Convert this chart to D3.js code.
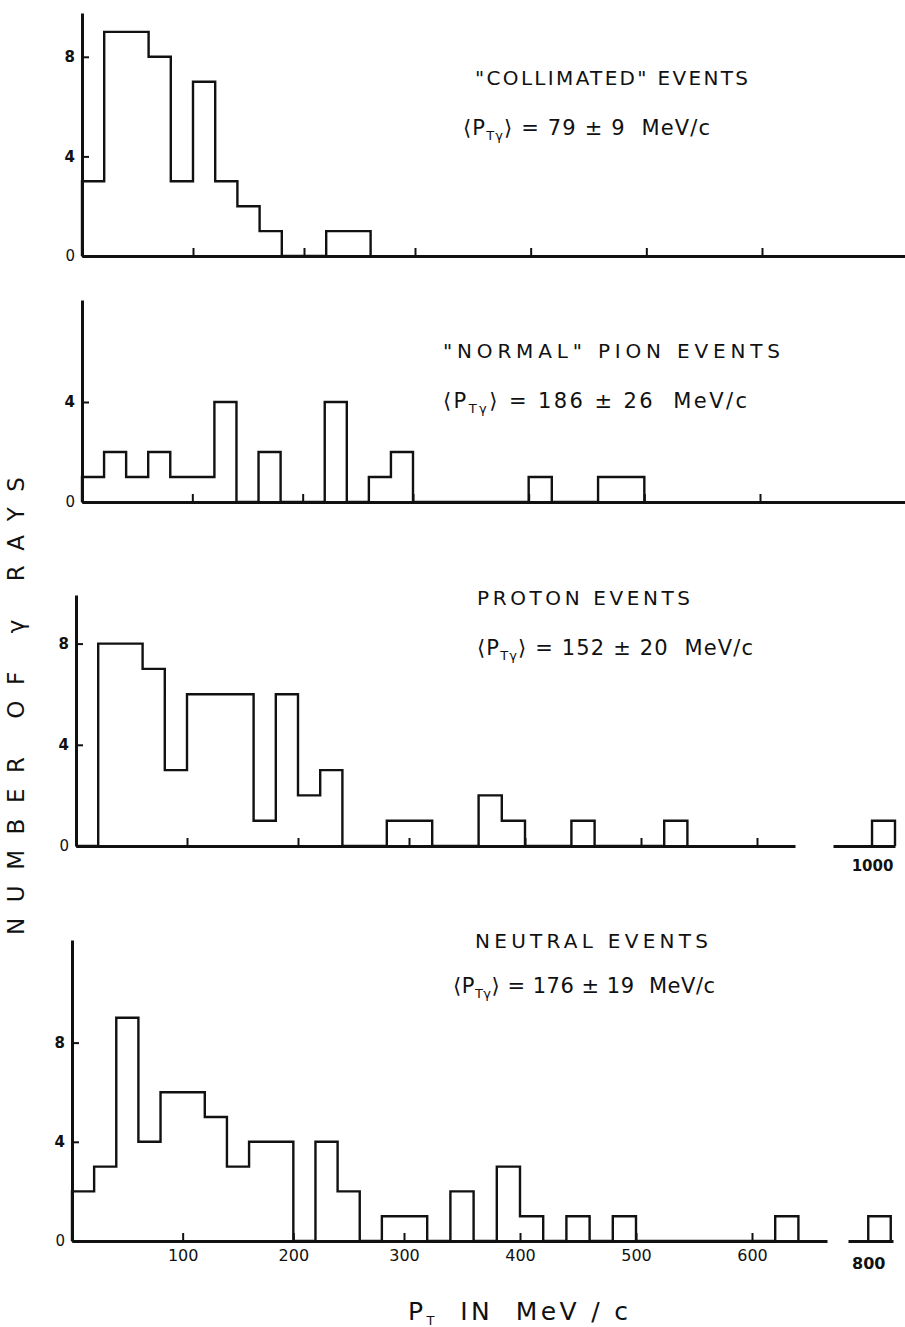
<!DOCTYPE html>
<html>
<head>
<meta charset="utf-8">
<script src="https://cdn.jsdelivr.net/npm/d3@7"></script>
<style>
  body { margin: 0; background: #fff; }
  text { font-family: "DejaVu Sans", sans-serif; fill: #111; }
</style>
</head>
<body>
<div id="chart"></div>
<script>
// counts of gamma rays per 20 MeV/c bin, starting at p_T = 0
var binWidth = 20;
var collimatedCounts = [3, 9, 9, 8, 3, 7, 3, 2, 1, 0, 0, 1, 1];
var pionCounts = [1, 2, 1, 2, 1, 1, 4, 0, 2, 0, 0, 4, 0, 1, 2, 0, 0, 0, 0, 0, 1, 0, 0, 1, 1];
var protonCounts = [0, 8, 8, 7, 3, 6, 6, 6, 1, 6, 2, 3, 0, 0, 1, 1, 0, 0, 2, 1, 0, 0, 1, 0, 0, 0, 1];
var neutralCounts = [2, 3, 9, 4, 6, 6, 5, 3, 4, 4, 0, 4, 2, 0, 1, 1, 0, 2, 0, 3, 1, 0, 1, 0, 1,
                     0, 0, 0, 0, 0, 0, 1];

// the far bins past the axis break
var protonFarStart = [1000];
var protonFarCounts = [1];
var neutralFarStart = [800];
var neutralFarCounts = [1];

var panelTitles = ['"COLLIMATED" EVENTS', '"NORMAL" PION EVENTS', 'PROTON EVENTS', 'NEUTRAL EVENTS'];
var panelMeans = ['79 \u00b1 9  MeV/c', '186 \u00b1 26  MeV/c', '152 \u00b1 20  MeV/c', '176 \u00b1 19  MeV/c'];
var yTickValues = [[0, 4, 8], [0, 4], [0, 4, 8], [0, 4, 8]];
var xTickValues = [100, 200, 300, 400, 500, 600];

var fullWidth = 905;
var fullHeight = 1327;
var ink = '#111';

// layout of the four panels (hand drawn axes, so each has its own anchors)
var panels = [
    { counts: collimatedCounts, xr: [82, 415, 762], xEnd: 905, y0: 256, yTop: 13, ppu: 24.9,
      title: [475, 85, 273], mean: [463, 135, 247], labels: false },
    { counts: pionCounts, xr: [82, 413, 760], xEnd: 905, y0: 502, yTop: 300, ppu: 25,
      title: [443, 358, 337], mean: [443, 408, 304], labels: false },
    { counts: protonCounts, xr: [76, 409, 757], xEnd: 795, y0: 846, yTop: 595, ppu: 25.3,
      title: [477, 605, 213], mean: [477, 655, 276], labels: false,
      far: { start: protonFarStart, counts: protonFarCounts, dom: [966, 1020], rng: [833, 895] } },
    { counts: neutralCounts, xr: [72, 404, 752], xEnd: 827, y0: 1241, yTop: 940, ppu: 24.8,
      title: [475, 948, 233], mean: [453, 993, 262], labels: true,
      far: { start: neutralFarStart, counts: neutralFarCounts, dom: [782, 822], rng: [848, 893] } }
];

var svg = d3.select('#chart').append('svg')
    .attr('width', fullWidth)
    .attr('height', fullHeight)
    .style('display', 'block');

svg.append('rect')
    .attr('width', fullWidth)
    .attr('height', fullHeight)
    .attr('fill', '#fff');

panels.forEach(function(p, i) {
    drawPanel(p, i);
});

// y axis title
svg.append('text')
    .attr('transform', 'translate(24,706) rotate(-90)')
    .attr('text-anchor', 'middle')
    .attr('textLength', 458)
    .attr('lengthAdjust', 'spacing')
    .style('font-size', '23px')
    .text('NUMBER OF \u03b3 RAYS');

// x axis title
var xTitle = svg.append('text')
    .attr('x', 408)
    .attr('y', 1320)
    .attr('textLength', 220)
    .attr('lengthAdjust', 'spacing')
    .style('font-size', '25px')
    .style('white-space', 'pre');
xTitle.append('tspan').text('P');
xTitle.append('tspan').attr('dy', 5).style('font-size', '13px').text('T');
xTitle.append('tspan').attr('dy', -5).text('  IN  MeV / c');

function drawPanel(p, idx) {
    var r = p.xr;
    // extend the scale out to where the axis line stops
    var endUnits = 600 + (p.xEnd - r[2]) * 300 / (r[2] - r[1]);
    var x = d3.scaleLinear().domain([0, 300, 600, endUnits]).range([r[0], r[1], r[2], p.xEnd]);
    var yMaxUnits = (p.y0 - p.yTop) / p.ppu;
    var y = d3.scaleLinear().domain([0, yMaxUnits]).range([p.y0, p.yTop]);

    var g = svg.append('g');

    // x axis, ticks pointing up into the plot
    var xAxis = d3.axisBottom(x)
        .tickValues(xTickValues)
        .tickSizeInner(-8)
        .tickSizeOuter(0)
        .tickPadding(9)
        .tickFormat(p.labels ? d3.format('d') : function() { return ''; });
    var xg = g.append('g')
        .attr('transform', 'translate(0,' + p.y0 + ')')
        .call(xAxis);
    styleAxis(xg, 16);

    // y axis, ticks pointing right
    var yAxis = d3.axisLeft(y)
        .tickValues(yTickValues[idx])
        .tickSizeInner(-7)
        .tickSizeOuter(0)
        .tickPadding(7)
        .tickFormat(d3.format('d'));
    var yg = g.append('g')
        .attr('transform', 'translate(' + x(0) + ',0)')
        .call(yAxis);
    styleAxis(yg, 15);
    yg.selectAll('.tick text').style('font-weight', function(d) { return d === 0 ? 'normal' : 'bold'; });

    // histogram outline
    g.append('path')
        .attr('d', stepLine(x, y)(histPoints(0, p.counts)))
        .attr('fill', 'none')
        .attr('stroke', ink)
        .attr('stroke-width', 2.4)
        .attr('stroke-linejoin', 'miter');

    // piece of axis after the break
    if (p.far) {
        var xf = d3.scaleLinear().domain(p.far.dom).range(p.far.rng);
        var fg = g.append('g')
            .attr('transform', 'translate(0,' + p.y0 + ')')
            .call(d3.axisBottom(xf)
                .tickValues(p.far.start)
                .tickSize(0)
                .tickPadding(p.labels ? 17 : 14)
                .tickFormat(d3.format('d')));
        styleAxis(fg, p.labels ? 16 : 15);
        fg.selectAll('.tick text').style('font-weight', 'bold');

        p.far.start.forEach(function(s, k) {
            var pts = [[s, 0], [s, p.far.counts[k]], [s + binWidth, p.far.counts[k]], [s + binWidth, 0]];
            g.append('path')
                .attr('d', stepLine(xf, y)(pts))
                .attr('fill', 'none')
                .attr('stroke', ink)
                .attr('stroke-width', 2.4);
        });
    }

    // panel title and mean value
    g.append('text')
        .attr('x', p.title[0])
        .attr('y', p.title[1])
        .attr('textLength', p.title[2])
        .attr('lengthAdjust', 'spacing')
        .style('font-size', '20px')
        .text(panelTitles[idx]);

    var mean = g.append('text')
        .attr('x', p.mean[0])
        .attr('y', p.mean[1])
        .attr('textLength', p.mean[2])
        .attr('lengthAdjust', 'spacing')
        .style('font-size', '21px')
        .style('white-space', 'pre');
    mean.append('tspan').text('\u27e8P');
    mean.append('tspan').attr('dy', 5).style('font-size', '13px').text('T\u03b3');
    mean.append('tspan').attr('dy', -5).text('\u27e9 = ' + panelMeans[idx]);
}

function styleAxis(sel, fontSize) {
    sel.select('.domain')
        .attr('stroke', ink)
        .attr('stroke-width', 3);
    sel.selectAll('.tick line')
        .attr('stroke', ink)
        .attr('stroke-width', 2);
    sel.selectAll('.tick text')
        .attr('fill', ink)
        .style('font-family', '"DejaVu Sans", sans-serif')
        .style('font-size', fontSize + 'px');
}

function histPoints(start, counts) {
    var pts = [[start, 0]];
    counts.forEach(function(c, i) {
        pts.push([start + i * binWidth, c]);
        pts.push([start + (i + 1) * binWidth, c]);
    });
    pts.push([start + counts.length * binWidth, 0]);
    return pts;
}

function stepLine(x, y) {
    return d3.line()
        .x(function(d) { return x(d[0]); })
        .y(function(d) { return y(d[1]); });
}
</script>
</body>
</html>
